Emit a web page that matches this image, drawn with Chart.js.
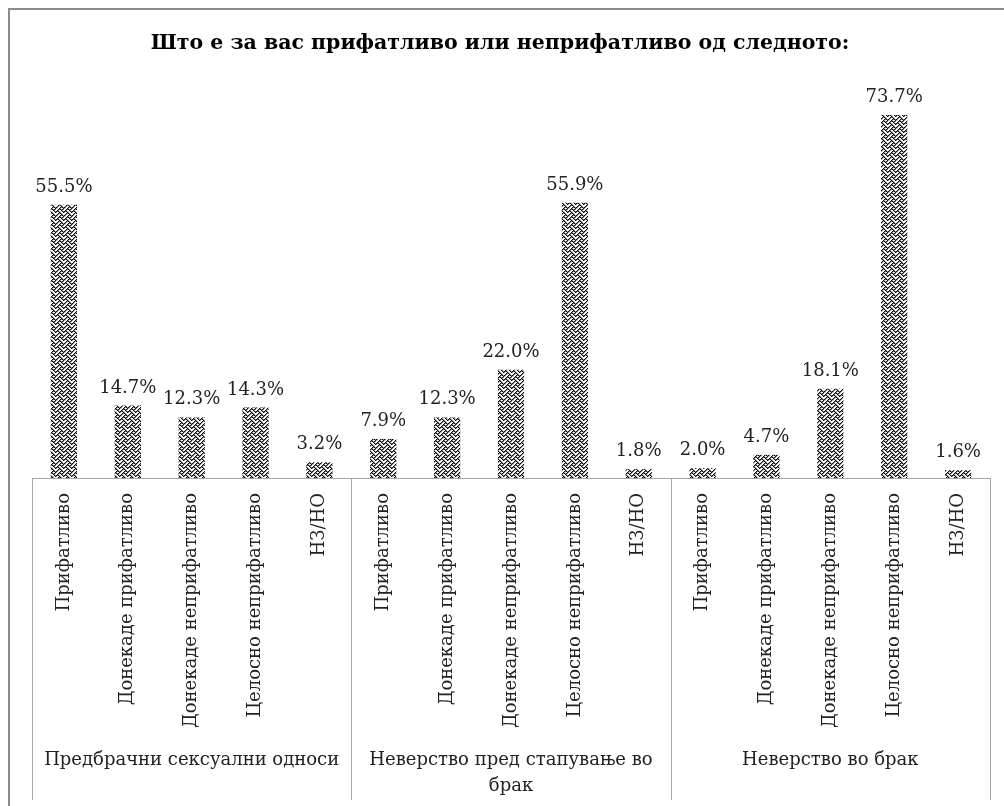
<!DOCTYPE html>
<html>
<head>
<meta charset="utf-8">
<script src="https://cdn.jsdelivr.net/npm/chart.js@4.4.1/dist/chart.umd.min.js"></script>
<style>
  html, body { margin: 0; padding: 0; background: #fff; }
  #wrap { position: relative; width: 1004px; height: 806px; }
</style>
</head>
<body>
<div id="wrap"><canvas id="chart"></canvas></div>
<script>
// Chart data
const title = 'Што е за вас прифатливо или неприфатливо од следното:';
const groups = ['Предбрачни сексуални односи', ['Неверство пред стапување во', 'брак'], 'Неверство во брак'];
const answers = ['Прифатливо', 'Донекаде прифатливо', 'Донекаде неприфатливо', 'Целосно неприфатливо', 'НЗ/НО'];
const premarital = [55.5, 14.7, 12.3, 14.3, 3.2];
const beforeMarriage = [7.9, 12.3, 22.0, 55.9, 1.8];
const inMarriage = [2.0, 4.7, 18.1, 73.7, 1.6];

const labels = [...answers, ...answers, ...answers];
const values = [...premarital, ...beforeMarriage, ...inMarriage];

const SERIF = '"DejaVu Serif", "Liberation Serif", serif';

// woven fill pattern for the bars (8x8 weave hatch)
function weavePattern() {
    const bits = [0x11, 0x2a, 0x44, 0xa2, 0x11, 0x28, 0x44, 0x8a];
    const c = document.createElement('canvas');
    c.width = 8; c.height = 8;
    const g = c.getContext('2d');
    g.fillStyle = '#ffffff';
    g.fillRect(0, 0, 8, 8);
    bits.forEach((b, y) => {
        for (let x = 0; x < 8; x++) {
            if (b & (0x80 >> x)) {
                g.fillStyle = '#000';
                g.fillRect(x, y, 1, 1);
                g.fillStyle = '#8a8a8a';
                g.fillRect((x + 1) % 8, y, 1, 1);
            }
        }
    });
    return g.createPattern(c, 'repeat');
}

const decor = {
    id: 'decor',
    beforeDraw(chart) {
        const ctx = chart.ctx;
        ctx.save();
        ctx.fillStyle = '#fff';
        ctx.fillRect(0, 0, chart.width, chart.height);
        ctx.strokeStyle = '#8c8c8c';
        ctx.lineWidth = 2;
        ctx.strokeRect(9, 9, 1100, 1000);
        // title, centred on the frame
        ctx.fillStyle = '#000';
        ctx.font = 'bold 20.5px ' + SERIF;
        ctx.textAlign = 'center';
        ctx.textBaseline = 'middle';
        ctx.fillText(title, 500, 44);
        ctx.restore();
    },
    afterDraw(chart) {
        const ctx = chart.ctx;
        const area = chart.chartArea;
        ctx.save();
        // group separators
        ctx.strokeStyle = '#a6a6a6';
        ctx.lineWidth = 1;
        const step = (area.right - area.left) / labels.length;
        for (let i = 0; i <= groups.length; i++) {
            const px = Math.round(area.left + i * answers.length * step) + 0.5;
            ctx.beginPath();
            ctx.moveTo(px, area.bottom);
            ctx.lineTo(px, 800);
            ctx.stroke();
        }
        // group labels
        ctx.fillStyle = '#222';
        ctx.font = '18px ' + SERIF;
        ctx.textAlign = 'center';
        ctx.textBaseline = 'middle';
        groups.forEach((g, i) => {
            const cx = area.left + (i + 0.5) * answers.length * step;
            const lines = Array.isArray(g) ? g : [g];
            lines.forEach((ln, j) => ctx.fillText(ln, cx, 760 + j * 26));
        });
        // value labels
        const meta = chart.getDatasetMeta(0);
        ctx.textBaseline = 'alphabetic';
        ctx.font = '18px ' + SERIF;
        meta.data.forEach((bar, i) => {
            ctx.fillText(values[i].toFixed(1) + '%', bar.x, bar.y - 13);
        });
        ctx.restore();
    }
};

new Chart(document.getElementById('chart'), {
    type: 'bar',
    data: {
        labels: labels,
        datasets: [{
            data: values,
            backgroundColor: weavePattern(),
            borderWidth: 0,
            barPercentage: 0.41,
            categoryPercentage: 1.0
        }]
    },
    options: {
        responsive: true,
        maintainAspectRatio: false,
        animation: false,
        layout: { padding: { left: 32, right: 14, top: 84, bottom: 0 } },
        plugins: {
            legend: { display: false },
            tooltip: { enabled: false },
            title: { display: false }
        },
        scales: {
            x: {
                grid: { display: false },
                border: { display: true, color: '#a6a6a6' },
                ticks: {
                    autoSkip: false,
                    minRotation: 90,
                    maxRotation: 90,
                    padding: 7,
                    color: '#222',
                    font: { family: SERIF, size: 18 }
                },
                afterFit(s) { s.height = 328; }
            },
            y: {
                display: false,
                min: 0,
                max: 80
            }
        }
    },
    plugins: [decor]
});
</script>
</body>
</html>
